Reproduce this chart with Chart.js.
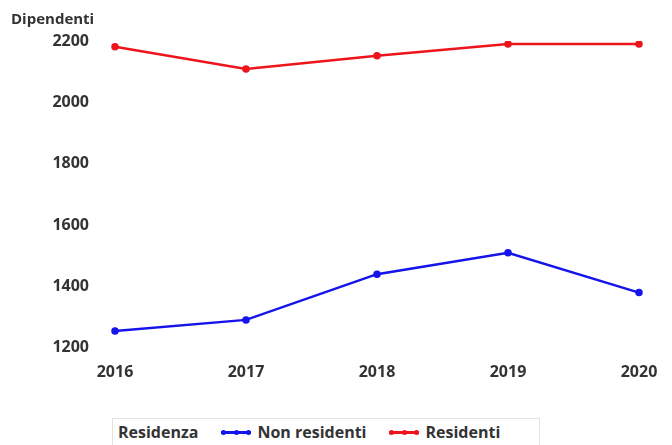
<!DOCTYPE html>
<html>
<head>
<meta charset="utf-8">
<script src="https://cdn.jsdelivr.net/npm/chart.js@4.4.1/dist/chart.umd.min.js"></script>
<style>
  html, body { margin: 0; padding: 0; background: #fff; }
  #wrap { position: relative; width: 672px; height: 445px; overflow: hidden; }
  #legend {
    position: absolute; left: 112px; top: 418px; width: 428px; height: 40px;
    border: 1px solid #e2e2e2; box-sizing: border-box;
    font: bold 16px "Open Sans", "Noto Sans", sans-serif; color: #333;
    display: flex; align-items: flex-start; padding-top: 2px; padding-left: 5px;
  }
  #legend .item { display: flex; align-items: center; margin-left: 23px; }
  #legend .sym { position: relative; width: 30px; height: 10px; margin-right: 6px; }
  #legend .sym .ln { position: absolute; left: 0; right: 0; top: 4px; height: 2.5px; }
  #legend .sym .dt { position: absolute; top: 2.5px; width: 5px; height: 5px; border-radius: 50%; }
</style>
</head>
<body>
<div id="wrap">
  <canvas id="c" width="672" height="410"></canvas>
  <div id="legend"></div>
</div>
<script>
const categories = ['2016', '2017', '2018', '2019', '2020'];
const nonResidenti = [1255, 1291, 1440, 1510, 1380];
const residenti = [2181, 2109, 2152, 2190, 2190];
const seriesNames = ['Non residenti', 'Residenti'];
const legendTitle = 'Residenza';
const axisTitle = 'Dipendenti';

const blue = 'rgb(20,20,235)';
const red = 'rgb(238,20,28)';
const family = '"Open Sans", "Noto Sans", sans-serif';
const font = { family: family, size: 16, weight: 'bold' };

const chart = new Chart(document.getElementById('c'), {
  type: 'line',
  data: {
    labels: categories,
    datasets: [
      { label: seriesNames[0], data: nonResidenti, borderColor: blue, backgroundColor: blue,
        borderWidth: 2.5, pointRadius: 2.5, pointHoverRadius: 2.5, tension: 0 },
      { label: seriesNames[1], data: residenti, borderColor: red, backgroundColor: red,
        borderWidth: 2.5, pointRadius: 2.5, pointHoverRadius: 2.5, tension: 0 }
    ]
  },
  options: {
    responsive: false,
    animation: false,
    layout: { padding: { left: 11, right: 33, top: 0, bottom: 21 } },
    plugins: {
      legend: { display: false },
      tooltip: { enabled: false },
      title: { display: true, text: axisTitle, align: 'start', color: '#333',
               font: { family: family, size: 15, weight: 'bold' },
               padding: { top: 11, bottom: 12 } }
    },
    scales: {
      x: {
        offset: false,
        grid: { display: false },
        border: { display: false },
        ticks: { color: '#333', font: font, padding: 7, maxRotation: 0 }
      },
      y: {
        min: 1200, max: 2200,
        grid: { display: false },
        border: { display: false },
        ticks: { color: '#333', font: font, padding: 18, stepSize: 200,
                 callback: (v) => String(v) },
        afterFit: (s) => { s.width = 104; }
      }
    }
  }
});

// HTML legend built from the datasets
const lg = document.getElementById('legend');
const t = document.createElement('span');
t.textContent = legendTitle;
lg.appendChild(t);
chart.data.datasets.forEach(ds => {
  const it = document.createElement('span');
  it.className = 'item';
  const sym = document.createElement('span');
  sym.className = 'sym';
  const ln = document.createElement('span');
  ln.className = 'ln'; ln.style.background = ds.borderColor;
  sym.appendChild(ln);
  [0, 12.5, 25].forEach(x => {
    const d = document.createElement('span');
    d.className = 'dt'; d.style.left = x + 'px'; d.style.background = ds.borderColor;
    sym.appendChild(d);
  });
  it.appendChild(sym);
  const lab = document.createElement('span');
  lab.textContent = ds.label;
  it.appendChild(lab);
  lg.appendChild(it);
});
</script>
</body>
</html>
